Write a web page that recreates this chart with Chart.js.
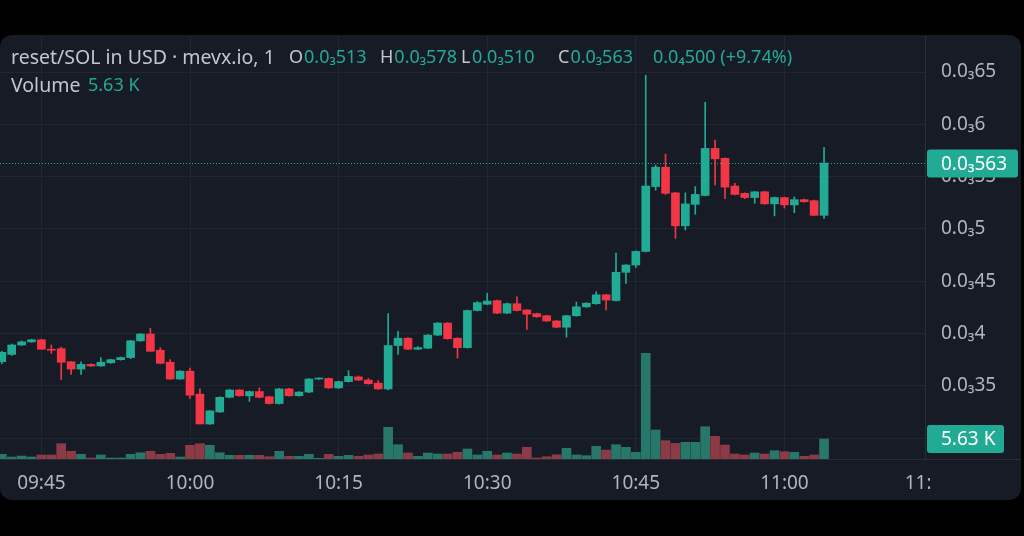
<!DOCTYPE html>
<html>
<head>
<meta charset="utf-8">
<script src="https://cdn.jsdelivr.net/npm/chart.js@4.4.1/dist/chart.umd.min.js"></script>
<style>
  html, body { margin: 0; padding: 0; background: #000; }
  #wrap { width: 1024px; height: 536px; }
</style>
</head>
<body>
<div id="wrap"><canvas id="chart" width="1024" height="536"></canvas></div>
<script>
// 1-minute candles, reset/SOL in USD. Prices are in units of 0.00001 (shown as 0.0₃xx)
const times = [
  '09:41','09:42','09:43','09:44','09:45','09:46','09:47','09:48','09:49','09:50',
  '09:51','09:52','09:53','09:54','09:55','09:56','09:57','09:58','09:59','10:00',
  '10:01','10:02','10:03','10:04','10:05','10:06','10:07','10:08','10:09','10:10',
  '10:11','10:12','10:13','10:14','10:15','10:16','10:17','10:18','10:19','10:20',
  '10:21','10:22','10:23','10:24','10:25','10:26','10:27','10:28','10:29','10:30',
  '10:31','10:32','10:33','10:34','10:35','10:36','10:37','10:38','10:39','10:40',
  '10:41','10:42','10:43','10:44','10:45','10:46','10:47','10:48','10:49','10:50',
  '10:51','10:52','10:53','10:54','10:55','10:56','10:57','10:58','10:59','11:00',
  '11:01','11:02','11:03','11:04'
];
const opens = [
  37.3, 38.0, 38.9, 39.2, 39.4, 38.5, 38.55, 37.3, 36.6, 37.05,
  36.9, 37.2, 37.5, 37.7, 39.3, 39.95, 38.4, 37.25, 35.65, 36.4,
  34.2, 31.35, 32.5, 33.9, 34.6, 34.05, 34.45, 33.95, 33.3, 34.7,
  34.05, 34.4, 35.65, 35.7, 34.8, 35.4, 35.85, 35.55, 35.25, 34.7,
  38.85, 39.55, 38.5, 38.6, 39.85, 41.0, 39.55, 38.65, 42.2, 42.8,
  43.15, 41.95, 42.85, 42.25, 41.9, 41.7, 41.2, 40.6, 41.7, 42.55,
  42.85, 43.7, 43.15, 45.85, 46.55, 47.85, 54.05, 55.9, 53.45, 50.3,
  52.35, 53.2, 57.7, 56.75, 54.1, 53.4, 53.0, 53.55, 52.4, 53.0,
  52.3, 52.8, 52.7, 51.3
];
const highs = [
  38.3, 39.0, 39.3, 39.45, 39.45, 38.9, 38.7, 37.35, 37.3, 37.1,
  37.7, 37.55, 37.75, 39.35, 40.0, 40.5, 38.65, 37.5, 36.45, 36.7,
  34.7, 32.65, 33.95, 34.65, 34.65, 34.5, 34.8, 34.0, 34.75, 34.75,
  34.45, 35.7, 35.75, 35.75, 35.45, 36.45, 35.95, 35.7, 35.5, 41.9,
  40.2, 39.6, 38.75, 39.9, 41.05, 41.05, 39.6, 42.25, 43.05, 43.85,
  43.2, 42.9, 43.5, 42.3, 41.95, 41.75, 41.25, 41.75, 43.0, 42.95,
  44.0, 43.75, 47.7, 46.6, 47.9, 64.7, 56.1, 57.15, 53.5, 53.45,
  54.05, 62.1, 58.5, 56.8, 54.35, 53.45, 53.6, 53.6, 53.05, 53.05,
  53.05, 52.85, 52.75, 57.8
];
const lows = [
  37.1, 37.9, 38.85, 39.15, 38.5, 38.1, 35.6, 36.1, 36.1, 36.85,
  36.85, 37.15, 37.45, 37.6, 39.25, 38.3, 37.1, 35.6, 35.6, 33.8,
  31.35, 31.3, 32.45, 33.85, 34.0, 33.5, 33.85, 33.25, 33.25, 34.0,
  34.0, 34.35, 35.6, 34.75, 34.75, 35.35, 35.5, 35.15, 34.65, 34.6,
  38.0, 38.45, 38.45, 38.55, 39.8, 39.45, 37.65, 38.6, 42.15, 42.75,
  41.9, 41.9, 42.15, 40.4, 41.55, 41.15, 40.55, 39.65, 41.65, 42.5,
  42.8, 42.25, 43.1, 44.8, 46.3, 47.8, 53.7, 53.3, 49.1, 49.9,
  51.4, 53.15, 54.2, 52.9, 53.25, 52.9, 52.45, 52.35, 51.25, 52.0,
  51.55, 52.55, 51.3, 51.0
];
const closes = [
  38.2, 38.9, 39.2, 39.4, 38.5, 38.4, 37.25, 36.6, 37.05, 36.9,
  37.25, 37.5, 37.7, 39.3, 39.95, 38.3, 37.15, 35.65, 36.4, 34.1,
  31.35, 32.6, 33.9, 34.6, 34.05, 34.45, 33.9, 33.3, 34.7, 34.05,
  34.4, 35.65, 35.7, 34.8, 35.4, 35.9, 35.55, 35.2, 34.7, 38.85,
  39.55, 38.5, 38.65, 39.85, 41.0, 39.5, 38.65, 42.2, 42.95, 43.1,
  41.95, 42.85, 42.2, 41.85, 41.6, 41.2, 40.6, 41.7, 42.55, 42.9,
  43.7, 43.2, 45.85, 46.55, 47.85, 54.1, 55.9, 53.4, 50.3, 52.4,
  53.3, 57.7, 56.7, 54.0, 53.3, 53.0, 53.55, 52.4, 53.0, 52.3,
  52.8, 52.6, 51.3, 56.3
];
// volume in thousands
const volumes = [
  1.32, 0.56, 0.84, 0.56, 1.13, 1.13, 4.31, 2.17, 1.32, 0.28,
  1.13, 0.28, 0.28, 1.32, 1.77, 2.17, 1.32, 1.60, 0.56, 3.86,
  4.31, 3.86, 1.77, 1.04, 1.04, 1.04, 1.04, 0.65, 2.17, 0.76,
  0.76, 1.32, 0.20, 1.32, 0.76, 1.04, 0.76, 1.13, 1.41, 8.92,
  4.03, 1.69, 0.76, 1.69, 1.41, 1.41, 1.89, 2.82, 1.13, 2.17,
  1.13, 1.69, 1.41, 3.29, 0.28, 0.65, 1.21, 3.01, 1.13, 0.93,
  3.58, 2.53, 4.03, 3.29, 1.89, 29.75, 8.16, 5.15, 4.42, 4.70,
  4.70, 9.09, 6.39, 3.94, 1.41, 1.13, 1.69, 1.41, 2.34, 2.05,
  1.89, 0.76, 1.13, 5.63
];
const priceTicks = [30, 35, 40, 45, 50, 55, 60, 65];
const timeTicks = ['09:45', '10:00', '10:15', '10:30', '10:45', '11:00', '11:15'];
const headerLine1 = [
  ['reset/SOL in USD · mevx.io, 1', 'title', 11],
  ['O', 'label', 289], ['0.0₃513', 'value', 301],
  ['H', 'label', 380], ['0.0₃578', 'value', 392],
  ['L', 'label', 461], ['0.0₃510', 'value', 472],
  ['C', 'label', 558], ['0.0₃563', 'value', 570],
  ['0.0₄500 (+9.74%)', 'value', 653]
];
const headerLine2 = [['Volume', 'title', 11], ['5.63 K', 'value', 88]];

const GREEN = '#22ab94', RED = '#f23645';
const VOL_GREEN = '#27776b', VOL_RED = '#8c3a46';
const BG = '#171b26', GRID = '#222632', SEP = '#2a2e39';
const TEXT = '#b2b5be', HEAD = '#c3c6ce';
const FONT = '"Noto Sans", sans-serif';
const SIZE = 19;

const toMin = t => { const [h, m] = t.split(':').map(Number); return h * 60 + m; };
const fmtTime = v => String(Math.floor(v / 60)).padStart(2, '0') + ':' + String(v % 60).padStart(2, '0');
const fmtPrice = v => '0.0₃' + String(Math.round(v * 10) / 100).replace('0.', '').replace('.', '');
const up = i => closes[i] >= opens[i];

const bodies = times.map((t, i) => ({ x: toMin(t), y: [opens[i], closes[i]] }));
const wicks = times.map((t, i) => ({ x: toMin(t), y: [lows[i], highs[i]] }));
const vols = times.map((t, i) => ({ x: toMin(t), y: volumes[i] }));
const tickMinutes = timeTicks.map(toMin);

const frame = {
  id: 'frame',
  beforeDraw(chart) {
    const { ctx, chartArea: a } = chart;
    ctx.save();
    ctx.fillStyle = '#000';
    ctx.fillRect(0, 0, chart.width, chart.height);
    ctx.fillStyle = BG;
    ctx.beginPath();
    ctx.roundRect(0, 35, 1021, 465, 12);
    ctx.fill();
    // separator under the price scale
    ctx.strokeStyle = SEP;
    ctx.lineWidth = 1;
    ctx.beginPath();
    ctx.moveTo(a.right, a.bottom + 0.5);
    ctx.lineTo(1021, a.bottom + 0.5);
    ctx.stroke();
    ctx.restore();
  },
  afterDraw(chart) {
    const { ctx, chartArea: a, scales } = chart;
    const last = closes.length - 1;
    ctx.save();

    // last price dotted line
    const py = Math.round(scales.y.getPixelForValue(closes[last])) + 0.5;
    ctx.strokeStyle = GREEN;
    ctx.lineWidth = 1;
    ctx.setLineDash([1, 2]);
    ctx.beginPath();
    ctx.moveTo(a.left, py);
    ctx.lineTo(a.right, py);
    ctx.stroke();
    ctx.setLineDash([]);

    // price and volume labels on the scale
    ctx.font = SIZE + 'px ' + FONT;
    ctx.textBaseline = 'middle';
    const tag = (y, w, text) => {
      ctx.fillStyle = GREEN;
      ctx.beginPath();
      ctx.roundRect(a.right + 2, y - 14, w, 28, 3);
      ctx.fill();
      ctx.fillStyle = '#ffffff';
      ctx.fillText(text, a.right + 16, y + 1);
    };
    tag(py, 91, fmtPrice(closes[last]));
    tag(scales.y2.getPixelForValue(volumes[last]), 77, volumes[last].toFixed(2) + ' K');

    // time label cut by the price scale
    const xs = scales.x;
    ctx.save();
    ctx.beginPath();
    ctx.rect(a.left, a.bottom + 1, a.right + 5 - a.left, 40);
    ctx.clip();
    ctx.fillStyle = TEXT;
    ctx.textAlign = 'center';
    tickMinutes.filter(m => m > xs.max).forEach(m => {
      ctx.fillText(fmtTime(m), xs.getPixelForValue(m) - 4, a.bottom + 25);
    });
    ctx.restore();

    // header
    ctx.textAlign = 'left';
    const row = (items, y) => {
      let end = 0;
      items.forEach(([s, kind, x]) => {
        ctx.font = (kind === 'title' ? 19.5 : 18) + 'px ' + FONT;
        const px = Math.max(x, end + 1);
        ctx.fillStyle = kind === 'value' ? GREEN : HEAD;
        ctx.fillText(s, px, y);
        end = px + ctx.measureText(s).width;
      });
    };
    row(headerLine1, 58);
    row(headerLine2, 86);
    ctx.restore();
  }
};

new Chart(document.getElementById('chart'), {
  type: 'bar',
  data: {
    datasets: [
      {
        label: 'body', data: bodies, order: 1, grouped: false,
        barThickness: 8, minBarLength: 1, borderWidth: 0,
        backgroundColor: c => up(c.dataIndex) ? GREEN : RED
      },
      {
        label: 'wick', data: wicks, order: 2, grouped: false,
        barThickness: 1, minBarLength: 1, borderWidth: 0,
        backgroundColor: c => up(c.dataIndex) ? GREEN : RED
      },
      {
        label: 'volume', data: vols, yAxisID: 'y2', order: 3, grouped: false,
        barThickness: 9, borderWidth: 0,
        backgroundColor: c => up(c.dataIndex) ? VOL_GREEN : VOL_RED
      }
    ]
  },
  options: {
    responsive: false,
    animation: false,
    events: [],
    layout: { padding: { top: 36, bottom: 36, left: 0, right: 2 } },
    plugins: { legend: { display: false }, tooltip: { enabled: false } },
    scales: {
      x: {
        type: 'linear',
        offset: false,
        min: 580.82,
        max: 674.19,
        grid: { color: GRID, drawTicks: false, offset: false },
        border: { color: SEP },
        ticks: {
          autoSkip: false, maxRotation: 0,
          color: TEXT, font: { family: FONT, size: SIZE }, padding: 13,
          callback: v => fmtTime(v)
        },
        afterBuildTicks: s => { s.ticks = tickMinutes.filter(m => m >= s.min && m <= s.max).map(v => ({ value: v })); },
        afterFit: s => { s.height = 41; s.paddingLeft = 0; s.paddingRight = 0; }
      },
      y: {
        position: 'right',
        min: 28.0,
        max: 68.45,
        grid: { color: GRID, drawTicks: false },
        border: { color: SEP },
        ticks: {
          color: TEXT, font: { family: FONT, size: SIZE }, padding: 16,
          callback: v => fmtPrice(v)
        },
        afterBuildTicks: s => { s.ticks = priceTicks.map(v => ({ value: v })); },
        afterFit: s => { s.width = 97; s.paddingTop = 0; s.paddingBottom = 0; }
      },
      y2: { display: false, min: 0, max: 119.1 }
    }
  },
  plugins: [frame]
});
</script>
</body>
</html>
